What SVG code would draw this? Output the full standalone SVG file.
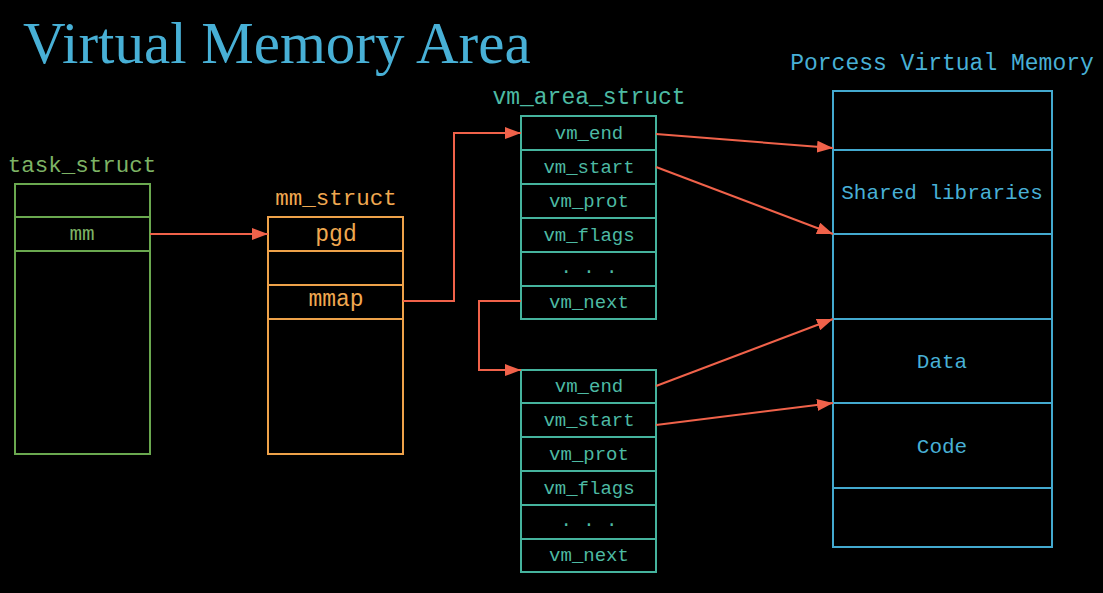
<svg xmlns="http://www.w3.org/2000/svg" width="1103" height="593" viewBox="0 0 1103 593">
<defs>
<style>
.mono{font-family:"Liberation Mono","DejaVu Sans Mono",monospace;text-anchor:middle}
.g{stroke:#6aa84f;fill:none;stroke-width:2}
.gt{fill:#7db365}
.o{stroke:#eea24a;fill:none;stroke-width:2}
.ot{fill:#f0a850}
.t{stroke:#45b39d;fill:none;stroke-width:2}
.tt{fill:#4dbaa3}
.b{stroke:#43a9cf;fill:none;stroke-width:2}
.bt{fill:#48b0d6}
.c{stroke:#f0624a;fill:none;stroke-width:2}
</style>
<marker id="ah" viewBox="0 0 16 12" refX="16" refY="6" markerWidth="16" markerHeight="12" markerUnits="userSpaceOnUse" orient="auto">
<path d="M0,0 L16,6 L0,12 Z" fill="#f0624a"/>
</marker>
</defs>
<rect width="1103" height="593" fill="#000"/>
<text x="23" y="63" font-family="Liberation Serif,Times New Roman,serif" font-size="59" fill="#48b0d6">Virtual Memory Area</text>

<g id="task_struct">
<text class="mono gt" x="82" y="172" font-size="22.5">task_struct</text>
<rect class="g" x="15" y="184" width="135" height="270"/>
<line class="g" x1="15" y1="217" x2="150" y2="217"/>
<line class="g" x1="15" y1="251" x2="150" y2="251"/>
<text class="mono gt" x="82" y="240" font-size="21">mm</text>
</g>

<g id="mm_struct">
<text class="mono ot" x="336" y="205" font-size="22.5">mm_struct</text>
<rect class="o" x="268" y="217" width="135" height="237"/>
<line class="o" x1="268" y1="251" x2="403" y2="251"/>
<line class="o" x1="268" y1="285" x2="403" y2="285"/>
<line class="o" x1="268" y1="319" x2="403" y2="319"/>
<text class="mono ot" x="336" y="241" font-size="23">pgd</text>
<text class="mono ot" x="336" y="306" font-size="23">mmap</text>
</g>

<g id="vm_area_struct_1">
<text class="mono tt" x="589" y="104" font-size="23">vm_area_struct</text>
<rect class="t" x="521" y="116" width="135" height="203"/>
<line class="t" x1="521" y1="150" x2="656" y2="150"/>
<line class="t" x1="521" y1="184" x2="656" y2="184"/>
<line class="t" x1="521" y1="218" x2="656" y2="218"/>
<line class="t" x1="521" y1="252" x2="656" y2="252"/>
<line class="t" x1="521" y1="286" x2="656" y2="286"/>
<g class="mono tt" font-size="19">
<text x="589" y="139">vm_end</text>
<text x="589" y="173">vm_start</text>
<text x="589" y="207">vm_prot</text>
<text x="589" y="241">vm_flags</text>
<text x="589" y="273">. . .</text>
<text x="589" y="308">vm_next</text>
</g>
</g>

<g id="vm_area_struct_2">
<rect class="t" x="521" y="370" width="135" height="202"/>
<line class="t" x1="521" y1="403" x2="656" y2="403"/>
<line class="t" x1="521" y1="437" x2="656" y2="437"/>
<line class="t" x1="521" y1="471" x2="656" y2="471"/>
<line class="t" x1="521" y1="505" x2="656" y2="505"/>
<line class="t" x1="521" y1="539" x2="656" y2="539"/>
<g class="mono tt" font-size="19">
<text x="589" y="392">vm_end</text>
<text x="589" y="426">vm_start</text>
<text x="589" y="460">vm_prot</text>
<text x="589" y="494">vm_flags</text>
<text x="589" y="526">. . .</text>
<text x="589" y="561">vm_next</text>
</g>
</g>

<g id="process_vm">
<text class="mono bt" x="942" y="70" font-size="23">Porcess Virtual Memory</text>
<rect class="b" x="833" y="91" width="219" height="456"/>
<line class="b" x1="833" y1="150" x2="1052" y2="150"/>
<line class="b" x1="833" y1="234" x2="1052" y2="234"/>
<line class="b" x1="833" y1="319" x2="1052" y2="319"/>
<line class="b" x1="833" y1="403" x2="1052" y2="403"/>
<line class="b" x1="833" y1="488" x2="1052" y2="488"/>
<text class="mono bt" x="942" y="199" font-size="21">Shared libraries</text>
<text class="mono bt" x="942" y="368" font-size="21">Data</text>
<text class="mono bt" x="942" y="453" font-size="21">Code</text>
</g>

<g id="connectors">
<path class="c" d="M150,234 L268,234" marker-end="url(#ah)"/>
<path class="c" d="M403,301 L454,301 L454,133 L521,133" marker-end="url(#ah)"/>
<path class="c" d="M656,134 L833,148" marker-end="url(#ah)"/>
<path class="c" d="M656,167 L833,234" marker-end="url(#ah)"/>
<path class="c" d="M521,301 L479,301 L479,370 L521,370" marker-end="url(#ah)"/>
<path class="c" d="M656,386 L833,319" marker-end="url(#ah)"/>
<path class="c" d="M656,425 L833,403" marker-end="url(#ah)"/>
</g>
</svg>
